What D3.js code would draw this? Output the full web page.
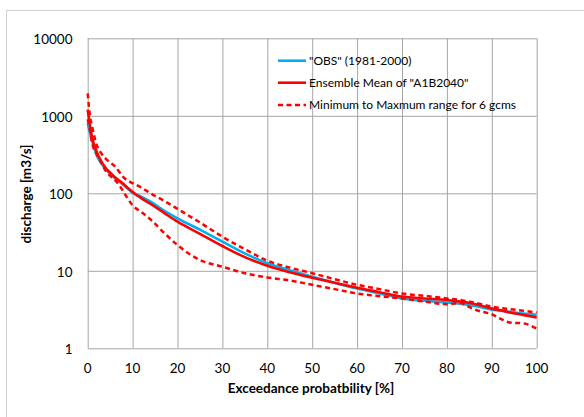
<!DOCTYPE html>
<html>
<head>
<meta charset="utf-8">
<script src="https://cdn.jsdelivr.net/npm/d3@7"></script>
<style>
body{margin:0;background:#fff}
text{font-family:Lato,"Open Sans",sans-serif;fill:#000}
.grid line{stroke:#a6a6a6;stroke-width:1}
.grid path{display:none}
</style>
</head>
<body>
<div id="chart"></div>
<script>
var w = 584
var h = 417

// exceedance probability [%]
var prob = [0,0.5,1,2,3,4,5,6,7,8,9,10,12,14,17,20,25,30,35,40,45,50,55,60,65,70,75,80,83,85,87,90,92,94,97,100]
// discharge [m3/s]
var obs = [800,600,470,310,245,205,178,158,142,128,114,102,90,78,60,47.6,34,23.8,16.8,12.5,10.2,8.4,7.0,5.9,5.1,4.4,4.1,3.9,3.75,3.6,3.45,3.15,3.05,2.95,2.8,2.7]
var ensMean = [1200,750,520,345,260,212,185,162,146,132,116,104,86,73,56,43,30,20.9,15,11.6,9.6,8.15,7.0,6.05,5.3,4.65,4.4,4.2,4.0,3.85,3.65,3.25,3.1,2.9,2.7,2.5]
var gcmMax = [1950,1000,720,420,330,280,250,225,190,160,145,135,118,100,80,63,42,27.5,19,13.5,11,9.3,7.8,6.6,5.8,5.1,4.75,4.4,4.2,4.0,3.8,3.45,3.3,3.2,3.05,2.9]
var gcmMin = [900,650,440,320,250,195,168,150,128,104,84,70,57,46,31,21.5,13.8,11.3,9.3,8.2,7.5,6.6,5.8,5.1,4.7,4.4,4.0,3.7,3.85,3.4,3.05,2.75,2.4,2.15,2.1,1.8]

var xTicks = [0,10,20,30,40,50,60,70,80,90,100]
var yTicks = [1,10,100,1000,10000]
var legendLabels = ['"OBS" (1981-2000)','Ensemble Mean of "A1B2040"','Minimum to Maxmum range for 6 gcms']

var plotL = 87.7, plotR = 536.7, plotT = 38.3, plotB = 348.3

var svg = d3.select("#chart").append("svg").attr("width",w).attr("height",h)

// outer chart border
svg.append("rect").attr("x",6.5).attr("y",10.5).attr("width",w).attr("height",h)
	.attr("fill","none").attr("stroke","#d0d0d0").attr("stroke-width",1)

var x = d3.scaleLinear().domain([0,100]).range([plotL,plotR])
var y = d3.scaleLog().domain([1,10000]).range([plotB,plotT])

// grid
svg.append("g").attr("class","grid")
	.attr("transform","translate(0,"+plotB+")")
	.call(d3.axisBottom(x).tickValues(xTicks).tickSize(-(plotB-plotT)).tickFormat(""))
svg.append("g").attr("class","grid")
	.attr("transform","translate("+plotL+",0)")
	.call(d3.axisLeft(y).tickValues(yTicks).tickSize(-(plotR-plotL)).tickFormat(""))

// tick labels
svg.selectAll(".xlab").data(xTicks).enter().append("text")
	.attr("class","xlab")
	.attr("x",function(d){return x(d)})
	.attr("y",368.5)
	.attr("dy","0.35em")
	.attr("text-anchor","middle")
	.style("font-size","13.5px")
	.text(function(d){return d})
svg.selectAll(".ylab").data(yTicks).enter().append("text")
	.attr("class","ylab")
	.attr("x",72.5)
	.attr("y",function(d){return y(d)+1})
	.attr("dy","0.35em")
	.attr("text-anchor","end")
	.style("font-size","13.5px")
	.text(function(d){return d})

// axis titles
svg.append("text").text("Exceedance probatbility [%]")
	.attr("x",311).attr("y",388).attr("dy","0.35em")
	.attr("text-anchor","middle")
	.style("font-weight","bold").style("font-size","13.5px")
svg.append("text").text("discharge [m3/s]")
	.attr("transform","translate(26,194) rotate(-90)")
	.attr("dy","0.35em")
	.attr("text-anchor","middle")
	.style("font-weight","bold").style("font-size","13.5px")

function series(vals){
	return prob.map(function(p,i){return [p,vals[i]]})
}
var line = d3.line()
	.x(function(d){return x(d[0])})
	.y(function(d){return y(d[1])})
	.curve(d3.curveMonotoneX)

var plot = svg.append("g")
plot.append("path").attr("d",line(series(obs)))
	.attr("fill","none").attr("stroke","#00b0f0").attr("stroke-width",2.6)
plot.append("path").attr("d",line(series(ensMean)))
	.attr("fill","none").attr("stroke","#ff0000").attr("stroke-width",2.6)
plot.append("path").attr("d",line(series(gcmMax)))
	.attr("fill","none").attr("stroke","#ff0000").attr("stroke-width",2.5).attr("stroke-dasharray","5,3.5")
plot.append("path").attr("d",line(series(gcmMin)))
	.attr("fill","none").attr("stroke","#ff0000").attr("stroke-width",2.5).attr("stroke-dasharray","5,3.5")

// legend
var legendY = [60.7,82.7,105]
var legendStyle = [
	{c:"#00b0f0",dash:null,sw:2.6},
	{c:"#ff0000",dash:null,sw:2.6},
	{c:"#ff0000",dash:"5,3.5",sw:2.5}
]
legendLabels.forEach(function(l,i){
	svg.append("line")
		.attr("x1",278).attr("x2",306)
		.attr("y1",legendY[i]).attr("y2",legendY[i])
		.attr("stroke",legendStyle[i].c)
		.attr("stroke-width",legendStyle[i].sw)
		.attr("stroke-dasharray",legendStyle[i].dash)
	svg.append("text").text(l)
		.attr("x",309).attr("y",legendY[i]).attr("dy","0.35em")
		.style("font-size","12px")
})
</script>
</body>
</html>
